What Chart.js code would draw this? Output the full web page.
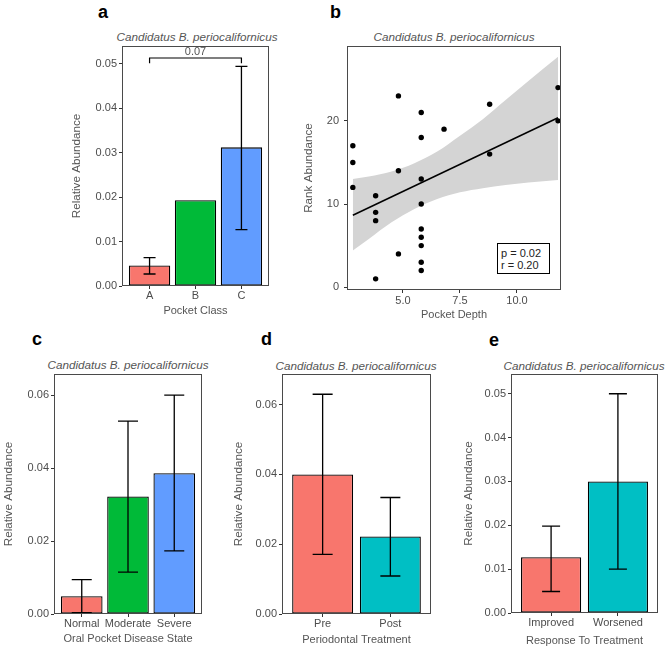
<!DOCTYPE html>
<html>
<head>
<meta charset="utf-8">
<script src="https://cdn.jsdelivr.net/npm/chart.js@4.4.0/dist/chart.umd.min.js"></script>
<style>
  html, body { margin: 0; background: #fff; }
  #fig { position: relative; width: 671px; height: 652px; overflow: hidden; font-family: 'Liberation Sans', Arial, sans-serif; }
  #fig canvas { position: absolute; }
  .tag { position: absolute; font-weight: bold; font-size: 18px; line-height: 18px; color: #000; }
  .ttl { position: absolute; width: 240px; text-align: center; font-style: italic; font-size: 11.7px; line-height: 13px; color: #555; white-space: nowrap; }
  .stat { position: absolute; box-sizing: border-box; border: 1.3px solid #000; background: #fff; font-size: 11px; line-height: 12px; color: #222; padding: 3px 0 0 3px; }
</style>
</head>
<body>
<div id="fig">
  <div class="tag" style="left:98px;top:3px">a</div>
  <div class="tag" style="left:330px;top:3px">b</div>
  <div class="tag" style="left:32px;top:330px">c</div>
  <div class="tag" style="left:261px;top:330px">d</div>
  <div class="tag" style="left:489px;top:331px">e</div>
  <div class="ttl" style="left:77px;top:30px">Candidatus B. periocalifornicus</div>
  <div class="ttl" style="left:334px;top:30px">Candidatus B. periocalifornicus</div>
  <div class="ttl" style="left:8px;top:358px">Candidatus B. periocalifornicus</div>
  <div class="ttl" style="left:236px;top:359px">Candidatus B. periocalifornicus</div>
  <div class="ttl" style="left:464px;top:359px">Candidatus B. periocalifornicus</div>
  <div class="stat" style="left:497px;top:243px;width:53px;height:31px">p = 0.02<br>r = 0.20</div>
</div>
<script>
// a: pocket class
const classLabels = ['A', 'B', 'C'];
const classMean = [0.0046, 0.0193, 0.0312];
const classLow = [0.0027, null, 0.0127];
const classHigh = [0.0064, null, 0.0494];
const sigFrom = 1, sigTo = 3, sigLevel = 0.0513, sigTickEnd = 0.0501, sigText = '0.07';

// b: rank abundance vs pocket depth
const depthX = [2.8, 2.8, 2.8, 3.8, 3.8, 3.8, 3.8, 4.8, 4.8, 4.8,
  5.8, 5.8, 5.8, 5.8, 5.8, 5.8, 5.8, 5.8, 5.8, 6.8, 8.8, 8.8, 11.8, 11.8];
const rankY = [17, 15, 12, 11, 9, 8, 1, 23, 14, 4,
  21, 18, 13, 10, 7, 6, 5, 3, 2, 19, 22, 16, 24, 20];
const fitX = [2.8, 11.8];
const fitY = [8.65, 20.37];
const bandX = [2.8, 3.5, 4.5, 5.5, 6.5, 7.5, 8.5, 9.5, 10.5, 11.8];
const bandLow = [4.4, 5.8, 7.8, 9.4, 10.6, 11.4, 11.9, 12.3, 12.6, 12.9];
const bandHigh = [13.0, 13.3, 13.9, 14.9, 16.3, 18.2, 20.2, 22.5, 24.8, 27.7];

// c: disease state
const stateLabels = ['Normal', 'Moderate', 'Severe'];
const stateMean = [0.0049, 0.0322, 0.0386];
const stateLow = [0.0004, 0.0115, 0.0173];
const stateHigh = [0.0094, 0.0529, 0.0600];

// d: periodontal treatment
const treatLabels = ['Pre', 'Post'];
const treatMean = [0.0400, 0.0222];
const treatLow = [0.0171, 0.0109];
const treatHigh = [0.0630, 0.0334];

// e: response to treatment
const respLabels = ['Improved', 'Worsened'];
const respMean = [0.0127, 0.0300];
const respLow = [0.0049, 0.0100];
const respHigh = [0.0198, 0.0500];

const hue3 = ['#F8766D', '#00BA38', '#619CFF'];
const hue2 = ['#F8766D', '#00BFC4'];

Chart.defaults.font.family = "'Liberation Sans', Arial, sans-serif";
Chart.defaults.font.size = 11;
Chart.defaults.color = '#4d4d4d';

const frame = {
  id: 'frame',
  afterDatasetsDraw(chart) {
    const { ctx, chartArea: a } = chart;
    ctx.save();
    ctx.strokeStyle = '#4a4a4a';
    ctx.lineWidth = 1;
    ctx.strokeRect(Math.round(a.left) + 0.5, Math.round(a.top) + 0.5,
      Math.round(a.right - a.left) - 1, Math.round(a.bottom - a.top) - 1);
    ctx.restore();
  }
};

const errorBars = {
  id: 'errorBars',
  afterDatasetsDraw(chart, args, opts) {
    const { ctx, scales: { x, y } } = chart;
    ctx.save();
    ctx.strokeStyle = '#000';
    ctx.lineWidth = 1.3;
    opts.low.forEach((lo, i) => {
      const hi = opts.high[i];
      if (lo == null || hi == null) return;
      const px = x.getPixelForValue(i + 1);
      const y1 = y.getPixelForValue(lo);
      const y2 = y.getPixelForValue(hi);
      const h = opts.cap / 2;
      ctx.beginPath();
      ctx.moveTo(px, y1); ctx.lineTo(px, y2);
      ctx.moveTo(px - h, y1); ctx.lineTo(px + h, y1);
      ctx.moveTo(px - h, y2); ctx.lineTo(px + h, y2);
      ctx.stroke();
    });
    ctx.restore();
  }
};

const sigBracket = {
  id: 'sigBracket',
  afterDatasetsDraw(chart) {
    const { ctx, scales: { x, y } } = chart;
    const x1 = x.getPixelForValue(sigFrom), x2 = x.getPixelForValue(sigTo);
    const yl = y.getPixelForValue(sigLevel), yt = y.getPixelForValue(sigTickEnd);
    ctx.save();
    ctx.strokeStyle = '#000';
    ctx.lineWidth = 1.2;
    ctx.beginPath();
    ctx.moveTo(x1, yt); ctx.lineTo(x1, yl); ctx.lineTo(x2, yl); ctx.lineTo(x2, yt);
    ctx.stroke();
    ctx.fillStyle = '#555';
    ctx.font = "11px 'Liberation Sans', Arial, sans-serif";
    ctx.textAlign = 'center';
    ctx.textBaseline = 'bottom';
    ctx.fillText(sigText, (x1 + x2) / 2, yl - 0.5);
    ctx.restore();
  }
};

function makeCanvas(plot, yW, xH) {
  const padT = 14, padR = 8;
  const c = document.createElement('canvas');
  c.width = yW + plot.r - plot.l + padR;
  c.height = padT + plot.b - plot.t + xH;
  c.style.left = (plot.l - yW) + 'px';
  c.style.top = (plot.t - padT) + 'px';
  document.getElementById('fig').appendChild(c);
  return { canvas: c, padding: { top: padT, right: padR, left: 0, bottom: 0 } };
}

function tickGrid() {
  return { drawOnChartArea: false, drawTicks: true, tickLength: 3, color: '#333', lineWidth: 1 };
}

const yTitleFont = { size: 11.7 };

function barPanel(p) {
  const { canvas, padding } = makeCanvas(p.plot, p.yW, p.xH);
  const n = p.labels.length;
  return new Chart(canvas, {
    type: 'bar',
    data: {
      datasets: [{
        data: p.mean.map((v, i) => ({ x: i + 1, y: v })),
        backgroundColor: p.colors,
        borderColor: '#000',
        borderWidth: 1.3,
        borderSkipped: false,
        categoryPercentage: 1,
        barPercentage: 0.9
      }]
    },
    options: {
      responsive: false,
      animation: false,
      events: [],
      layout: { padding },
      plugins: {
        legend: { display: false },
        tooltip: { enabled: false },
        errorBars: { low: p.low, high: p.high, cap: p.cap }
      },
      scales: {
        x: {
          type: 'linear', min: 0.4, max: n + 0.6, offset: false,
          grid: Object.assign(tickGrid(), { offset: false }),
          border: { display: false },
          ticks: { stepSize: 1, includeBounds: false, autoSkip: false, maxRotation: 0, padding: 0,
            callback: v => p.labels[Math.round(v) - 1] },
          title: { display: true, text: p.xTitle, color: '#555', padding: 0 },
          afterFit: s => { s.height = p.xH; }
        },
        y: {
          min: 0, max: p.yMax,
          grid: tickGrid(),
          border: { display: false },
          ticks: { stepSize: p.yStep, includeBounds: false, padding: 2, callback: v => v.toFixed(2) },
          title: { display: true, text: 'Relative Abundance', color: '#555', padding: 0, font: yTitleFont },
          afterFit: s => { s.width = p.yW; }
        }
      }
    },
    plugins: [errorBars, frame].concat(p.extra || [])
  });
}

barPanel({ plot: { l: 122, t: 46, r: 269, b: 286 }, yW: 52, xH: 32,
  labels: classLabels, mean: classMean, low: classLow, high: classHigh, colors: hue3,
  yMax: 0.054, yStep: 0.01, xTitle: 'Pocket Class', cap: 12, extra: [sigBracket] });

barPanel({ plot: { l: 54, t: 374, r: 202, b: 614 }, yW: 52, xH: 32,
  labels: stateLabels, mean: stateMean, low: stateLow, high: stateHigh, colors: hue3,
  yMax: 0.0658, yStep: 0.02, xTitle: 'Oral Pocket Disease State', cap: 20 });

barPanel({ plot: { l: 282, t: 374, r: 431, b: 614 }, yW: 50, xH: 33,
  labels: treatLabels, mean: treatMean, low: treatLow, high: treatHigh, colors: hue2,
  yMax: 0.0688, yStep: 0.02, xTitle: 'Periodontal Treatment', cap: 20 });

barPanel({ plot: { l: 511, t: 374, r: 658, b: 613 }, yW: 49, xH: 35,
  labels: respLabels, mean: respMean, low: respLow, high: respHigh, colors: hue2,
  yMax: 0.0545, yStep: 0.01, xTitle: 'Response To Treatment', cap: 18 });

// b: scatter with regression line and confidence band
(function () {
  const yW = 45, xH = 32;
  const { canvas, padding } = makeCanvas({ l: 347, t: 46, r: 561, b: 290 }, yW, xH);
  const clear = 'rgba(0,0,0,0)';
  new Chart(canvas, {
    type: 'scatter',
    data: {
      datasets: [
        { data: depthX.map((x, i) => ({ x, y: rankY[i] })), pointRadius: 2.7,
          backgroundColor: '#000', borderWidth: 0, order: 0 },
        { type: 'line', data: fitX.map((x, i) => ({ x, y: fitY[i] })), borderColor: '#000',
          borderWidth: 1.5, pointRadius: 0, fill: false, order: 1 },
        { type: 'line', data: bandX.map((x, i) => ({ x, y: bandHigh[i] })), borderColor: clear,
          borderWidth: 1, pointRadius: 0, fill: '+1', backgroundColor: 'rgb(212,212,212)',
          cubicInterpolationMode: 'monotone', order: 2 },
        { type: 'line', data: bandX.map((x, i) => ({ x, y: bandLow[i] })), borderColor: clear,
          borderWidth: 1, pointRadius: 0, fill: false, cubicInterpolationMode: 'monotone', order: 3 }
      ]
    },
    options: {
      responsive: false,
      animation: false,
      events: [],
      layout: { padding },
      plugins: { legend: { display: false }, tooltip: { enabled: false } },
      scales: {
        x: {
          type: 'linear', min: 2.544, max: 11.93,
          grid: tickGrid(),
          border: { display: false },
          ticks: { stepSize: 2.5, includeBounds: false, padding: 1, callback: v => v.toFixed(1) },
          title: { display: true, text: 'Pocket Depth', color: '#555', padding: 0 },
          afterFit: s => { s.height = xH; }
        },
        y: {
          min: -0.34, max: 29,
          grid: tickGrid(),
          border: { display: false },
          ticks: { stepSize: 10, includeBounds: false, padding: 5 },
          title: { display: true, text: 'Rank Abundance', color: '#555', padding: 0, font: yTitleFont },
          afterFit: s => { s.width = yW; }
        }
      }
    },
    plugins: [frame]
  });
})();
</script>
</body>
</html>
